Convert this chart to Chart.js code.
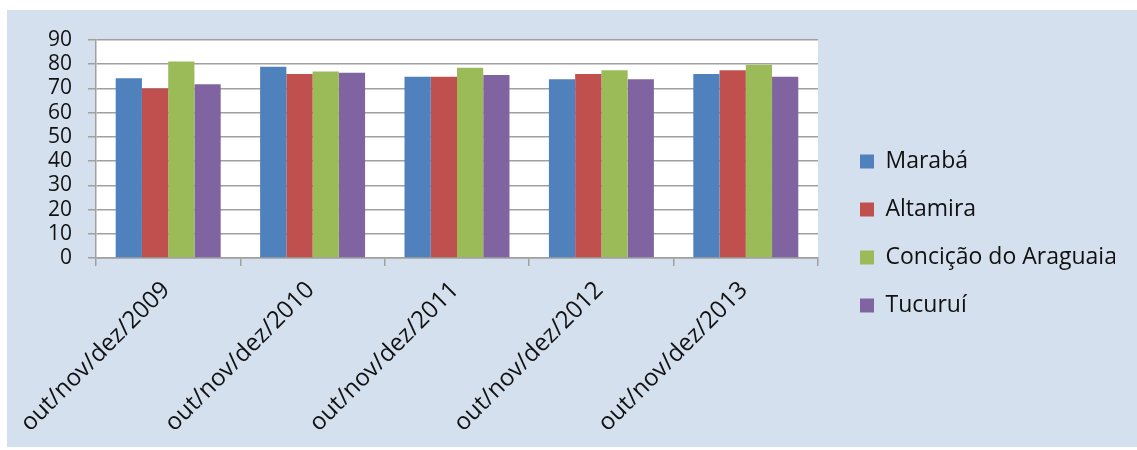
<!DOCTYPE html>
<html>
<head>
<meta charset="utf-8">
<script src="https://cdn.jsdelivr.net/npm/chart.js@4/dist/chart.umd.min.js"></script>
<style>
  html, body { margin: 0; padding: 0; background: #ffffff; }
  #frame {
    position: absolute; left: 7px; top: 10px;
    width: 1130px; height: 437px;
    background: #D5E0EE;
  }
  #chart { display: block; }
</style>
</head>
<body>
<div id="frame"><canvas id="chart" width="1130" height="437"></canvas></div>
<script>
// Quarterly periods (Oct/Nov/Dec) and one series per municipality
const periods = ['out/nov/dez/2009', 'out/nov/dez/2010', 'out/nov/dez/2011', 'out/nov/dez/2012', 'out/nov/dez/2013'];
const maraba = [74.2, 79.0, 74.8, 73.8, 76.0];
const altamira = [70.0, 76.0, 74.8, 76.0, 77.5];
const conceicao = [81.1, 77.0, 78.5, 77.5, 79.8];
const tucurui = [71.7, 76.5, 75.5, 73.8, 74.8];
const seriesNames = ['Marabá', 'Altamira', 'Concição do Araguaia', 'Tucuruí'];
const seriesColors = ['#4F81BD', '#C0504D', '#9BBB59', '#8064A2'];
const yTicks = [0, 10, 20, 30, 40, 50, 60, 70, 80, 90];

const FAMILY = '"Open Sans", sans-serif';
const GRID = '#A0A0A0';
const TEXT = '#111111';

// Legend sits in a fixed-width column to the right of the plot;
// the items are pushed in so the plot keeps a small margin before them,
// and lifted a little above the vertical centre.
const LEGEND_WIDTH = 297;
const LEGEND_GAP = 17;
const LEGEND_LIFT = 10;

const plotBackground = {
  id: 'plotBackground',
  beforeDraw(chart) {
    const { ctx, chartArea: a } = chart;
    ctx.save();
    ctx.fillStyle = '#ffffff';
    ctx.fillRect(a.left, a.top, a.right - a.left, a.bottom - a.top);
    ctx.restore();
  }
};

const legendColumn = {
  id: 'legendColumn',
  afterInit(chart) {
    const lg = chart.legend;
    if (!lg) return;
    const fit = lg.fit;
    lg.fit = function () {
      fit.call(this);
      this.width = LEGEND_WIDTH;
    };
    const draw = lg.draw;
    lg.draw = function (area) {
      this.left += LEGEND_GAP;
      this.top -= LEGEND_LIFT;
      this.bottom -= LEGEND_LIFT;
      draw.call(this, area);
      this.left -= LEGEND_GAP;
      this.top += LEGEND_LIFT;
      this.bottom += LEGEND_LIFT;
    };
  }
};

const seriesValues = [maraba, altamira, conceicao, tucurui];

new Chart(document.getElementById('chart'), {
  type: 'bar',
  data: {
    labels: periods,
    datasets: seriesNames.map((name, i) => ({
      label: name,
      data: seriesValues[i],
      backgroundColor: seriesColors[i],
      borderWidth: 0,
      categoryPercentage: 0.727,
      barPercentage: 1.0
    }))
  },
  options: {
    responsive: false,
    animation: false,
    devicePixelRatio: 1,
    layout: { padding: { top: 30, left: 0, right: 22, bottom: 0 } },
    plugins: {
      tooltip: { enabled: false },
      legend: {
        position: 'right',
        align: 'center',
        labels: {
          font: { family: FAMILY, size: 23 },
          color: TEXT,
          boxWidth: 14,
          boxHeight: 14,
          padding: 25
        }
      }
    },
    scales: {
      x: {
        grid: {
          offset: true,
          drawOnChartArea: false,
          drawTicks: true,
          tickLength: 8,
          color: GRID,
          lineWidth: 1.5
        },
        border: { display: true, color: GRID, width: 1.5 },
        ticks: {
          font: { family: FAMILY, size: 24 },
          color: TEXT,
          minRotation: 45,
          maxRotation: 45,
          autoSkip: false,
          padding: 10,
          labelOffset: -2
        },
        afterFit(s) { s.height = 189; }
      },
      y: {
        min: 0,
        max: 90,
        afterBuildTicks(s) { s.ticks = yTicks.map(v => ({ value: v })); },
        grid: {
          color: GRID,
          lineWidth: 1.5,
          drawTicks: true,
          tickLength: 8
        },
        border: { display: true, color: GRID, width: 1.5 },
        ticks: {
          font: { family: FAMILY, size: 21 },
          color: TEXT,
          padding: 16,
          autoSkip: false
        },
        afterFit(s) { s.width = 89; }
      }
    }
  },
  plugins: [plotBackground, legendColumn]
});
</script>
</body>
</html>
